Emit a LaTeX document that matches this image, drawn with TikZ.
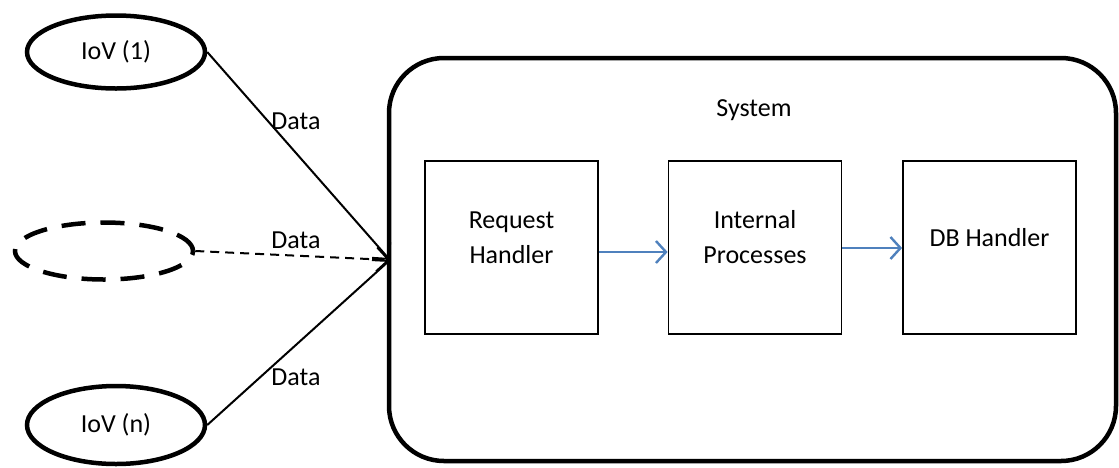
\documentclass[tikz,border=0pt]{standalone}
\usepackage{fontspec}
\setmainfont{Carlito}
\usetikzlibrary{arrows.meta,shapes.geometric}
\definecolor{arrowblue}{RGB}{79,129,189}
\begin{document}
\begin{tikzpicture}[x=1pt,y=-1pt,
  font=\fontsize{26}{35}\selectfont,
  iov/.style={ellipse,draw,line width=4.5pt,inner sep=0pt},
  compbox/.style={draw,line width=1.8pt,minimum width=173pt,minimum height=173pt,inner sep=0pt},
  boxtext/.style={label={[align=center,inner sep=0pt,yshift=10pt]center:#1}},
  datalink/.style={line width=2pt,-{Straight Barb[length=12pt,width=24pt,line width=2pt]}},
  flow/.style={line width=2.4pt,arrowblue,-{Straight Barb[length=10pt,width=22pt,line width=2.4pt]}},
  lbl/.style={inner sep=0pt}]
\useasboundingbox (0,0) rectangle (1119,467);
\node[iov,minimum width=178pt,minimum height=73pt] (i1) at (116,52) {IoV (1)};
\node[iov,dash pattern=on 24pt off 15pt,minimum width=178pt,minimum height=57pt] (i2) at (104,251) {};
\node[iov,minimum width=178pt,minimum height=78pt] (in) at (116,425) {IoV (n)};
\draw[line width=4.5pt,rounded corners=55pt] (389,58) rectangle (1116,461);
\coordinate (sysin) at (390,260);
\node[lbl] (sys) at (754,110) {System};
\node[compbox,boxtext={Request\\Handler}] (rh) at (511.5,247.5) {};
\node[compbox,boxtext={Internal\\Processes}] (ip) at (755,247.5) {};
\node[compbox,boxtext={DB Handler}] (db) at (989.5,247.5) {};
\draw[datalink] (i1.east) -- (sysin);
\draw[datalink,dash pattern=on 9pt off 6pt] (i2.east) -- (sysin);
\draw[datalink] (in.east) -- (sysin);
\node[lbl] (d1) at (296,121) {Data};
\node[lbl] (d2) at (296,240) {Data};
\node[lbl] (d3) at (296,377) {Data};
\draw[flow] (rh.east |- 0,252) -- (ip.west |- 0,252);
\draw[flow] (ip.east |- 0,248) -- (db.west |- 0,248);
\end{tikzpicture}
\end{document}
